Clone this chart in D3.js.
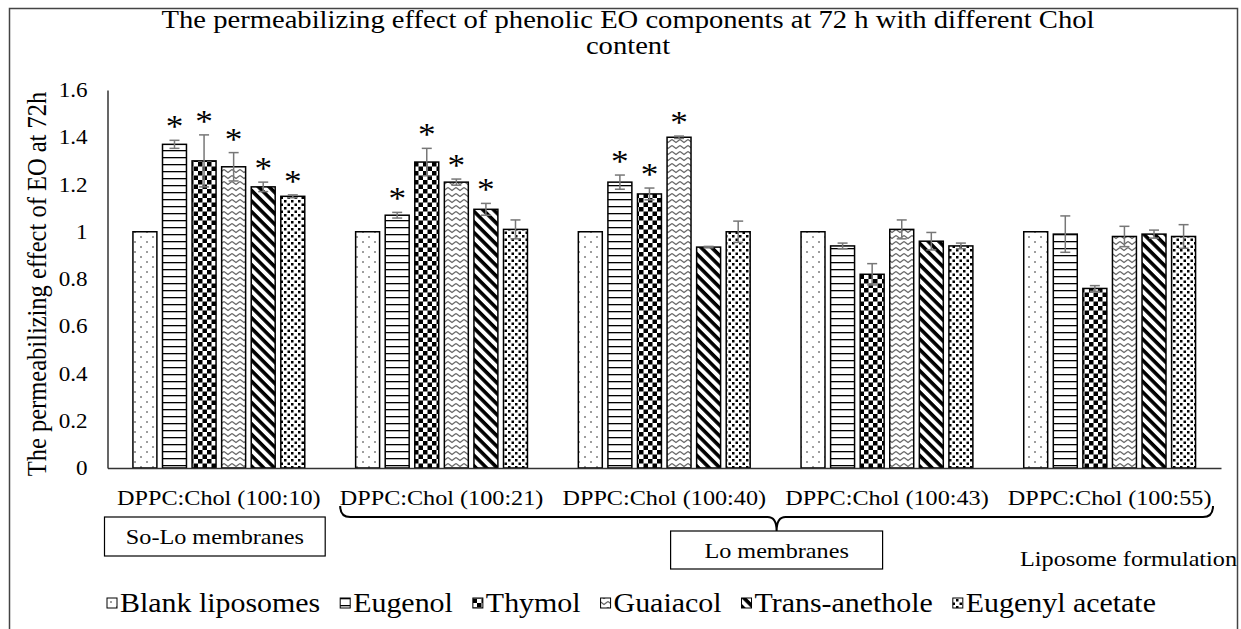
<!DOCTYPE html>
<html>
<head>
<meta charset="utf-8">
<script src="https://cdn.jsdelivr.net/npm/d3@7"></script>
<style>
  body { margin: 0; background: #fff; }
  svg { display: block; }
  svg text { font-family: "Liberation Serif", "Times New Roman", serif; }
</style>
</head>
<body>
<svg id="chart" width="1241" height="629"></svg>
<script>
// chart data
const categories = ["DPPC:Chol (100:10)", "DPPC:Chol (100:21)", "DPPC:Chol (100:40)", "DPPC:Chol (100:43)", "DPPC:Chol (100:55)"];
const seriesNames = ["Blank liposomes", "Eugenol", "Thymol", "Guaiacol", "Trans-anethole", "Eugenyl acetate"];

const blank = [1, 1, 1, 1, 1];
const eugenol = [1.37, 1.07, 1.21, 0.94, 0.99];
const thymol = [1.30, 1.295, 1.16, 0.82, 0.76];
const guaiacol = [1.275, 1.21, 1.40, 1.01, 0.98];
const transAnethole = [1.19, 1.095, 0.935, 0.96, 0.99];
const eugenylAcetate = [1.15, 1.01, 1.0, 0.94, 0.98];

const blankErr = [0, 0, 0, 0, 0];
const eugenolErr = [0.017, 0.012, 0.03, 0.012, 0.077];
const thymolErr = [0.11, 0.058, 0.025, 0.045, 0.012];
const guaiacolErr = [0.06, 0.013, 0.005, 0.04, 0.043];
const transAnetholeErr = [0.02, 0.025, 0.003, 0.037, 0.017];
const eugenylAcetateErr = [0.006, 0.04, 0.045, 0.012, 0.05];

// 1 = marked with an asterisk
const blankSig = [0, 0, 0, 0, 0];
const eugenolSig = [1, 1, 1, 0, 0];
const thymolSig = [1, 1, 1, 0, 0];
const guaiacolSig = [1, 1, 1, 0, 0];
const transAnetholeSig = [1, 1, 0, 0, 0];
const eugenylAcetateSig = [1, 0, 0, 0, 0];

const yTicks = [0, 0.2, 0.4, 0.6, 0.8, 1, 1.2, 1.4, 1.6];
const yTickLabels = ["0", "0.2", "0.4", "0.6", "0.8", "1", "1.2", "1.4", "1.6"];

const titleLines = ["The permeabilizing effect of phenolic EO components at 72 h with different Chol", "content"];
const yTitle = "The permeabilizing effect of EO at 72h";
const groupLabels = ["So-Lo membranes", "Lo membranes"];
const xTitle = "Liposome formulation";

const values = [blank, eugenol, thymol, guaiacol, transAnethole, eugenylAcetate];
const errors = [blankErr, eugenolErr, thymolErr, guaiacolErr, transAnetholeErr, eugenylAcetateErr];
const sigs = [blankSig, eugenolSig, thymolSig, guaiacolSig, transAnetholeSig, eugenylAcetateSig];

// the picture is a little stretched sideways
const SX = 1.1;

const svg = d3.select("#chart");

// frame round the whole figure
svg.append("rect")
  .attr("x", 9.5).attr("y", 8.5)
  .attr("width", 1228).attr("height", 660)
  .attr("fill", "none").attr("stroke", "#444").attr("stroke-width", 1.5);

// fill patterns
const defs = svg.append("defs");

function pattern(id, w, h, transform) {
  const p = defs.append("pattern")
    .attr("id", id)
    .attr("patternUnits", "userSpaceOnUse")
    .attr("width", w).attr("height", h);
  if (transform) p.attr("patternTransform", transform);
  p.append("rect").attr("width", w).attr("height", h).attr("fill", "#fff");
  return p;
}

// blank: sparse dots
var p0 = pattern("pat0", 12, 10);
p0.append("circle").attr("cx", 3).attr("cy", 2).attr("r", 0.8).attr("fill", "#222");
p0.append("circle").attr("cx", 9).attr("cy", 7).attr("r", 0.8).attr("fill", "#222");

// eugenol: horizontal lines
var p1 = pattern("pat1", 8, 7);
p1.append("rect").attr("x", 0).attr("y", 3).attr("width", 8).attr("height", 1.3).attr("fill", "#000");

// thymol: checkerboard
var p2 = pattern("pat2", 9, 9);
p2.append("rect").attr("x", 0).attr("y", 0).attr("width", 4.5).attr("height", 4.5).attr("fill", "#000");
p2.append("rect").attr("x", 4.5).attr("y", 4.5).attr("width", 4.5).attr("height", 4.5).attr("fill", "#000");

// guaiacol: zigzag
var p3 = pattern("pat3", 8, 6);
p3.append("path").attr("d", "M0,1.5 L4,4.5 L8,1.5").attr("fill", "none").attr("stroke", "#666").attr("stroke-width", 1.3);

// trans-anethole: wide diagonal stripes
var p4 = pattern("pat4", 7.5, 7.5, "rotate(45)");
p4.append("rect").attr("x", 0).attr("y", 0).attr("width", 7.5).attr("height", 3.6).attr("fill", "#000");

// eugenyl acetate: dots
var p5 = pattern("pat5", 7, 7);
p5.append("rect").attr("x", 0.5).attr("y", 0.5).attr("width", 2.5).attr("height", 2.5).attr("fill", "#000");
p5.append("rect").attr("x", 4).attr("y", 4).attr("width", 2.5).attr("height", 2.5).attr("fill", "#000");

// scales
var y = d3.scaleLinear().domain([0, 1.6]).range([468, 90]);
var x0 = d3.scaleBand().domain(categories).range([107.5, 1221]);
var x1 = d3.scaleBand().domain(seriesNames).range([0, x0.bandwidth()])
  .paddingInner(0.19).paddingOuter(0.86);

// stretched text helper
function sText(parent, x, yPos, str, size, anchor) {
  return parent.append("text")
    .attr("transform", "translate(" + x + "," + yPos + ") scale(" + SX + ",1)")
    .attr("font-size", size)
    .attr("text-anchor", anchor || "middle")
    .attr("fill", "#000")
    .text(str);
}

// title
sText(svg, 628, 28, titleLines[0], 26);
sText(svg, 628, 54, titleLines[1], 26);

// y axis
var yAxis = svg.append("g")
  .attr("transform", "translate(107.5,0)")
  .call(d3.axisLeft(y).tickValues(yTicks).tickFormat(function(d, i) { return yTickLabels[i]; })
    .tickSize(0).tickSizeOuter(0));
yAxis.attr("font-family", null).attr("font-size", null);
yAxis.select(".domain").attr("stroke", "#000").attr("stroke-width", 1.2);
yAxis.selectAll(".tick text")
  .attr("font-size", 21)
  .attr("fill", "#000")
  .attr("x", -20 / SX)
  .attr("transform", "scale(" + SX + ",1)");

// y axis title
svg.append("text")
  .attr("transform", "translate(46," + (y(0.8) + 5) + ") scale(" + SX + ",1) rotate(-90)")
  .attr("font-size", 24.5)
  .attr("text-anchor", "middle")
  .attr("fill", "#000")
  .text(yTitle);

// bars
var groups = svg.append("g").selectAll("g")
  .data(seriesNames)
  .join("g")
  .attr("fill", function(d, i) { return "url(#pat" + i + ")"; });

groups.each(function(name, si) {
  var g = d3.select(this);
  var rows = categories.map(function(c, ci) {
    return { cat: c, v: values[si][ci], e: errors[si][ci], sig: sigs[si][ci] };
  });

  g.selectAll("rect")
    .data(rows)
    .join("rect")
    .attr("x", function(d) { return x0(d.cat) + x1(name); })
    .attr("y", function(d) { return y(d.v); })
    .attr("width", x1.bandwidth())
    .attr("height", function(d) { return y(0) - y(d.v); })
    .attr("stroke", "#000")
    .attr("stroke-width", 1.5);

  // error bars
  var cx = function(d) { return x0(d.cat) + x1(name) + x1.bandwidth() / 2; };
  var err = g.selectAll("g.err")
    .data(rows.filter(function(d) { return d.e > 0; }))
    .join("g")
    .attr("class", "err")
    .attr("stroke", "#777")
    .attr("stroke-width", 1.5);
  err.append("line")
    .attr("x1", cx).attr("x2", cx)
    .attr("y1", function(d) { return y(d.v - d.e); })
    .attr("y2", function(d) { return y(d.v + d.e); });
  err.append("line")
    .attr("x1", function(d) { return cx(d) - 5; }).attr("x2", function(d) { return cx(d) + 5; })
    .attr("y1", function(d) { return y(d.v + d.e); })
    .attr("y2", function(d) { return y(d.v + d.e); });
  err.append("line")
    .attr("x1", function(d) { return cx(d) - 5; }).attr("x2", function(d) { return cx(d) + 5; })
    .attr("y1", function(d) { return y(d.v - d.e); })
    .attr("y2", function(d) { return y(d.v - d.e); });

  // asterisks
  rows.filter(function(d) { return d.sig; }).forEach(function(d) {
    sText(svg, cx(d), y(d.v + d.e) - 3, "*", 32);
  });
});

// x axis
var xAxis = svg.append("g")
  .attr("transform", "translate(0,468)")
  .call(d3.axisBottom(x0).tickSize(0).tickSizeOuter(0));
xAxis.attr("font-family", null).attr("font-size", null);
xAxis.select(".domain").attr("stroke", "#333").attr("stroke-width", 1.5);
xAxis.selectAll(".tick text")
  .attr("font-size", 22)
  .attr("fill", "#000")
  .attr("dy", null)
  .attr("y", 37)
  .attr("transform", "scale(" + SX + ",1)");

// group annotations
var ann = svg.append("g");
var soLoX = x0(categories[0]) - 3;
ann.append("rect")
  .attr("x", soLoX).attr("y", 517)
  .attr("width", x0.bandwidth() - 2).attr("height", 39)
  .attr("fill", "#fff").attr("stroke", "#000").attr("stroke-width", 1.2);
sText(ann, soLoX + (x0.bandwidth() - 2) / 2, 544, groupLabels[0], 22);

// brace under the Lo membranes formulations
var bl = x0(categories[1]) + 10;
var br = x0.range()[1] - 8;
var bm = (bl + br) / 2;
var by = 517;
ann.append("path")
  .attr("d", "M" + bl + ",506 Q" + bl + "," + by + " " + (bl + 10) + "," + by +
    " L" + (bm - 9) + "," + by + " Q" + bm + "," + by + " " + bm + "," + (by + 14) +
    " Q" + bm + "," + by + " " + (bm + 9) + "," + by +
    " L" + (br - 10) + "," + by + " Q" + br + "," + by + " " + br + ",506")
  .attr("fill", "none").attr("stroke", "#000").attr("stroke-width", 2);

ann.append("rect")
  .attr("x", bm - 106).attr("y", 531)
  .attr("width", 212).attr("height", 38)
  .attr("fill", "#fff").attr("stroke", "#000").attr("stroke-width", 1.2);
sText(ann, bm, 558, groupLabels[1], 22);

// x axis title
sText(svg, 1237, 566, xTitle, 22, "end");

// legend
var legend = svg.append("g");
var lx = 107;
seriesNames.forEach(function(name, i) {
  legend.append("rect")
    .attr("x", lx).attr("y", 598)
    .attr("width", 10).attr("height", 10)
    .attr("fill", "url(#pat" + i + ")")
    .attr("stroke", "#000").attr("stroke-width", 1);
  var t = sText(legend, lx + 13, 612, name, 27.2, "start");
  var w = t.node().getComputedTextLength() * SX;
  lx += 13 + w + 20;
});
</script>
</body>
</html>
